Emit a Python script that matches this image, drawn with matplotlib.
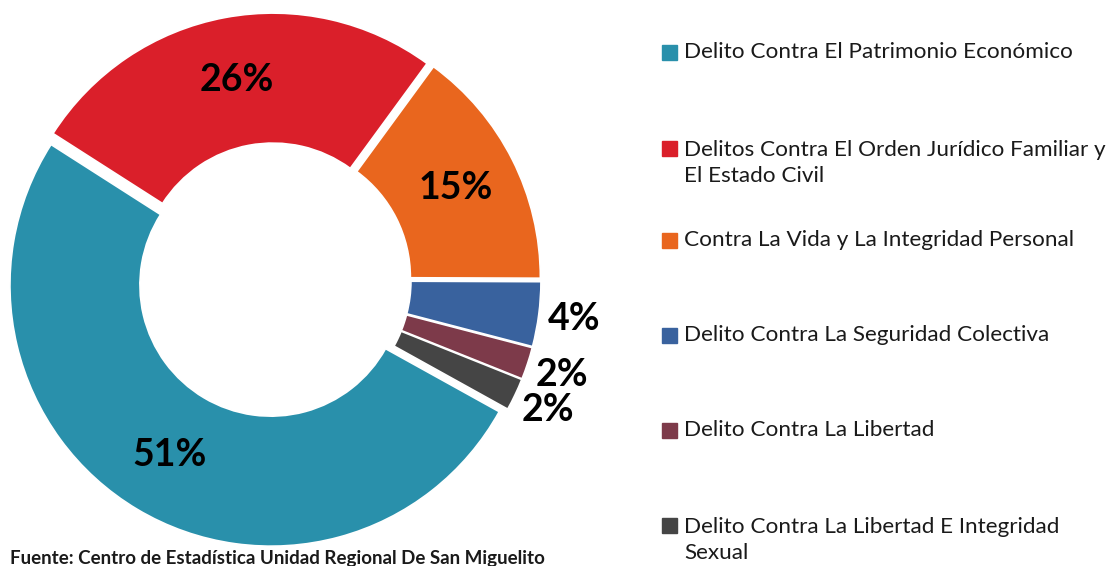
import matplotlib.pyplot as plt
from matplotlib.patches import Rectangle
import numpy as np

categorias = [
    "Delito Contra El Patrimonio Económico",
    "Delitos Contra El Orden Jurídico Familiar y\nEl Estado Civil",
    "Contra La Vida y La Integridad Personal",
    "Delito Contra La Seguridad Colectiva",
    "Delito Contra La Libertad",
    "Delito Contra La Libertad E Integridad\nSexual",
]
porcentajes = [51, 26, 15, 4, 2, 2]
colores = ["#2990AB", "#DA1F2A", "#E9661E", "#39629E", "#7D3A4A", "#454545"]
fuente = "Fuente: Centro de Estadística Unidad Regional De San Miguelito"

W, H = 1116, 566
fig = plt.figure(figsize=(W / 100, H / 100), dpi=100)
ax = fig.add_axes([0, 0, 1, 1])

R = 261
centro = (274, 286)
wedges, _ = ax.pie(porcentajes, colors=colores, startangle=-29, counterclock=False,
                   radius=R, center=centro, explode=[6] * len(porcentajes),
                   wedgeprops=dict(width=130, edgecolor="white", linewidth=1.2),
                   frame=True)
ax.set_xlim(0, W)
ax.set_ylim(0, H)
ax.set_aspect("equal")
ax.axis("off")

# etiquetas: dentro del anillo para las grandes, fuera para las pequeñas
for w, p in zip(wedges, porcentajes):
    ang = np.deg2rad((w.theta1 + w.theta2) / 2)
    r = 0.78 * R if p >= 10 else 1.16 * R
    ax.text(centro[0] + r * np.cos(ang), centro[1] + r * np.sin(ang), f"{p}%",
            ha="center", va="center", fontsize=27, fontweight="bold",
            family="Lato", color="black")

# leyenda
ys = [H - 52, H - 163, H - 240, H - 335, H - 430, H - 540]
for cat, col, y in zip(categorias, colores, ys):
    dos = "\n" in cat
    ym = y + 15 if dos else y
    ax.add_patch(Rectangle((662, ym - 7.5), 15, 15, color=col, clip_on=False))
    ax.text(684, y, cat, ha="left", va="center", fontsize=16.2, family="Lato",
            color="#1a1a1a", linespacing=1.4)

ax.text(545, H - 550, fuente, ha="right", va="top", fontsize=13.5,
        fontweight="bold", family="Lato", color="#1a1a1a")

fig.savefig("out.png", dpi=100)
